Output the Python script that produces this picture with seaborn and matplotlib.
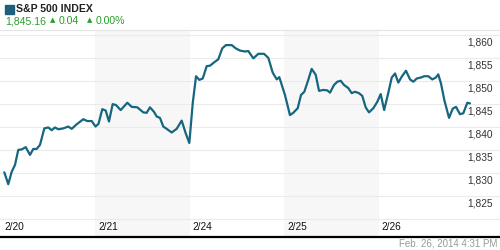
import matplotlib
matplotlib.use("Agg")
import matplotlib.pyplot as plt
import matplotlib.transforms as mtransforms
from matplotlib.patches import Rectangle
import seaborn as sns
import pandas as pd

# ---------------- data ----------------
day_labels = ["2/20", "2/21", "2/24", "2/25", "2/26"]
shaded_days = [1, 3]
# time in trading days since the 2/20 open (fractional)
t = [0.035, 0.077, 0.113, 0.148, 0.183, 0.219, 0.262, 0.307, 0.342, 0.378,
     0.413, 0.459, 0.501, 0.537, 0.572, 0.607, 0.660, 0.713, 0.749, 0.802,
     0.872, 0.914, 0.961,
     1.001, 1.033, 1.073, 1.109, 1.144, 1.183, 1.218, 1.268, 1.338, 1.385,
     1.444, 1.507, 1.543, 1.578, 1.621, 1.649, 1.684, 1.719, 1.755, 1.808,
     1.861, 1.914, 1.957, 1.995,
     2.031, 2.066, 2.101, 2.137, 2.179, 2.214, 2.256, 2.302, 2.344, 2.383,
     2.444, 2.486, 2.532, 2.585, 2.620, 2.673, 2.726, 2.786, 2.832, 2.878,
     2.921, 2.948,
     3.008, 3.061, 3.096, 3.143, 3.178, 3.213, 3.255, 3.291, 3.334, 3.369,
     3.414, 3.457, 3.485, 3.528, 3.563, 3.599, 3.633, 3.679, 3.715, 3.750,
     3.792, 3.827, 3.863, 3.898, 3.944, 3.986,
     4.022, 4.059, 4.103, 4.139, 4.174, 4.209, 4.245, 4.290, 4.333, 4.368,
     4.404, 4.446, 4.484, 4.526, 4.569, 4.605, 4.632, 4.661, 4.696, 4.746,
     4.785, 4.820, 4.862, 4.897, 4.940, 4.968]
price = [1830.1, 1827.5, 1830.2, 1831.7, 1835.0, 1835.1, 1835.6, 1833.9, 1835.2, 1835.2,
         1836.1, 1839.7, 1839.9, 1839.3, 1839.9, 1839.5, 1839.7, 1840.1, 1839.6, 1840.6,
         1841.7, 1841.3, 1841.3,
         1840.1, 1840.7, 1843.9, 1843.6, 1841.2, 1845.0, 1844.8, 1843.7, 1845.3, 1844.4,
         1844.3, 1843.2, 1843.1, 1844.3, 1843.3, 1842.3, 1842.0, 1840.1, 1839.6, 1838.8,
         1839.6, 1841.4, 1838.6, 1836.5,
         1845.2, 1851.1, 1850.3, 1850.6, 1853.3, 1853.4, 1854.1, 1854.8, 1857.2, 1857.9,
         1857.9, 1857.2, 1856.7, 1856.5, 1856.6, 1855.0, 1856.0, 1856.0, 1855.1, 1851.9,
         1850.4, 1850.9,
         1847.0, 1842.6, 1843.1, 1844.1, 1847.0, 1847.7, 1850.3, 1852.7, 1851.4, 1847.9,
         1848.1, 1848.0, 1847.5, 1849.2, 1849.9, 1850.1, 1849.2, 1848.5, 1847.4, 1847.7,
         1847.4, 1846.8, 1844.3, 1843.2, 1844.1, 1845.5,
         1847.2, 1843.7, 1847.5, 1850.8, 1851.7, 1849.7, 1851.0, 1852.3, 1850.4, 1849.9,
         1850.6, 1850.8, 1851.1, 1851.1, 1850.4, 1850.8, 1851.5, 1849.5, 1845.9, 1842.0,
         1844.0, 1844.4, 1842.8, 1843.0, 1845.3, 1845.16]
y_ticks = [1820, 1825, 1830, 1835, 1840, 1845, 1850, 1855, 1860]
y_tick_labels = ["", "1,825", "1,830", "1,835", "1,840", "1,845", "1,850", "1,855", "1,860"]
title = "S&P 500 INDEX"
last_value = "1,845.16"
change = "0.04"
change_pct = "0.00%"
timestamp = "Feb. 26, 2014 4:31 PM"

# ---------------- style ----------------
sns.set_theme(style="white")
plt.rcParams["font.family"] = ["Liberation Sans", "DejaVu Sans"]

LINE = "#16667f"
GREEN = "#2a9d2a"

W, H = 500, 250
fig = plt.figure(figsize=(W / 100, H / 100), dpi=100)
fig.patch.set_facecolor("white")

ax_top, ax_bot = 30, 237
ax = fig.add_axes([0, 1 - ax_bot / H, 1, (ax_bot - ax_top) / H])
ax.set_facecolor("white")

df = pd.DataFrame({"t": t, "price": price})

for d in shaded_days:
    ax.axvspan(d, d + 1, color="#f7f7f7", lw=0, zorder=0)
for v in y_ticks:
    ax.axhline(v, color="#ebebeb", lw=0.8, zorder=1)

sns.lineplot(data=df, x="t", y="price", ax=ax, color=LINE, lw=1.6,
             zorder=3, legend=False)

px_per_day = 94.4
ax.set_xlim(-1 / px_per_day, (W - 1) / px_per_day)
ax.set_ylim(1815.96, 1861.2)
ax.set_xticks([])
ax.set_yticks([])
ax.set_xlabel("")
ax.set_ylabel("")
for s in ["left", "right"]:
    ax.spines[s].set_visible(False)
ax.spines["top"].set_color("#e4e4e4")
ax.spines["top"].set_linewidth(0.8)
ax.spines["bottom"].set_color("black")
ax.spines["bottom"].set_linewidth(1.6)

PT = 0.72  # points per pixel at dpi 100

# y labels: right side, just below their gridline
ytrans = mtransforms.blended_transform_factory(ax.transAxes, ax.transData)
for v, lab in zip(y_ticks, y_tick_labels):
    if not lab:
        continue
    off = mtransforms.offset_copy(ytrans, fig=fig, x=0, y=-2.5 * PT, units="points")
    ax.text(493 / W, v, lab, transform=off, ha="right", va="top",
            fontsize=7.3, color="#333333")

# x labels: inside the plot, just left-aligned at each day start
xtrans = mtransforms.blended_transform_factory(ax.transData, ax.transAxes)
for i, lab in enumerate(day_labels):
    off = mtransforms.offset_copy(xtrans, fig=fig, x=3 * PT, y=0, units="points")
    ax.text(i, (ax_bot - 227.5) / (ax_bot - ax_top), lab, transform=off,
            ha="left", va="center", fontsize=7.3, color="#111111")

# header
fig.patches.append(Rectangle((5 / W, 1 - 14 / H), 9 / W, 9 / H,
                             transform=fig.transFigure, color="#1f5f7a"))
fig.text(16 / W, 1 - 9.5 / H, title, ha="left", va="center",
         fontsize=7.6, fontweight="bold", color="#222222")
fig.text(5 / W, 1 - 21 / H, last_value, ha="left", va="center",
         fontsize=7.6, color=GREEN)
fig.text(49.5 / W, 1 - 20 / H, "\u25B2", ha="left", va="center",
         fontsize=5, color=GREEN, family=["DejaVu Sans"])
fig.text(59 / W, 1 - 21 / H, change, ha="left", va="center",
         fontsize=7.6, color=GREEN)
fig.text(86.5 / W, 1 - 20 / H, "\u25B2", ha="left", va="center",
         fontsize=5, color=GREEN, family=["DejaVu Sans"])
fig.text(96 / W, 1 - 21 / H, change_pct, ha="left", va="center",
         fontsize=7.6, color=GREEN)

# footer timestamp
fig.text(497 / W, 1 - 243.5 / H, timestamp, ha="right", va="center",
         fontsize=7, color="#999999")

fig.savefig("out.png", dpi=100)
